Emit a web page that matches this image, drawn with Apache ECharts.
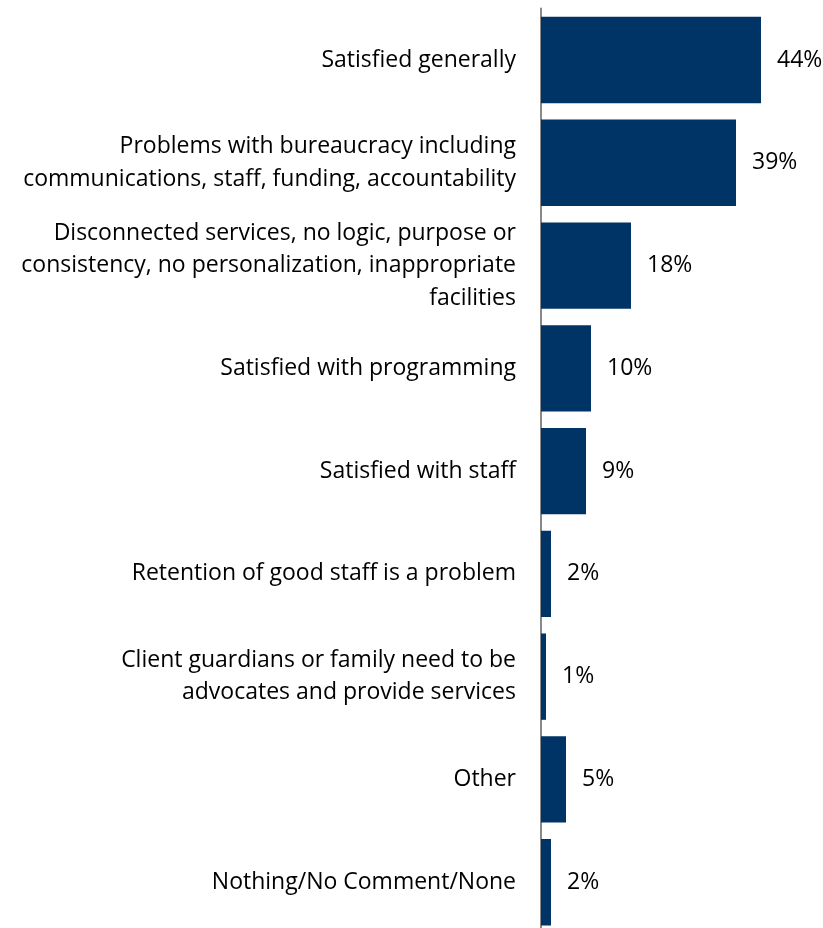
<!DOCTYPE html>
<html>
<head>
<meta charset="utf-8">
<script src="https://cdn.jsdelivr.net/npm/echarts@6/dist/echarts.min.js"></script>
<style>
  html, body { margin: 0; padding: 0; background: #ffffff; }
  #chart { width: 823px; height: 928px; }
</style>
</head>
<body>
<div id="chart"></div>
<script>
// Survey responses, top to bottom
const categories = [
  "Satisfied generally",
  "Problems with bureaucracy including\ncommunications, staff, funding, accountability",
  "Disconnected services, no logic, purpose or\nconsistency, no personalization, inappropriate\nfacilities",
  "Satisfied with programming",
  "Satisfied with staff",
  "Retention of good staff is a problem",
  "Client guardians or family need to be\nadvocates and provide services",
  "Other",
  "Nothing/No Comment/None"
];
// Share of respondents (%)
const values = [44, 39, 18, 10, 9, 2, 1, 5, 2];

const chart = echarts.init(document.getElementById('chart'));
chart.setOption({
  animation: false,
  backgroundColor: '#ffffff',
  grid: { left: 541, top: 8.6, width: 250, height: 925, outerBoundsMode: 'none', containLabel: false },
  xAxis: {
    type: 'value',
    min: 0,
    max: 50,
    show: false
  },
  yAxis: {
    type: 'category',
    inverse: true,
    data: categories,
    axisLine: { show: true, lineStyle: { color: '#898989', width: 2 } },
    axisTick: { show: false },
    axisLabel: {
      margin: 25,
      fontFamily: 'Open Sans',
      fontSize: 23,
      lineHeight: 32.5,
      color: '#000000',
      align: 'right'
    }
  },
  series: [{
    type: 'bar',
    data: values,
    barCategoryGap: '16%',
    itemStyle: { color: '#003366' },
    label: {
      show: true,
      position: 'right',
      distance: 16,
      formatter: '{c}%',
      fontFamily: 'Open Sans',
      fontSize: 23,
      color: '#000000'
    }
  }]
});
</script>
</body>
</html>
